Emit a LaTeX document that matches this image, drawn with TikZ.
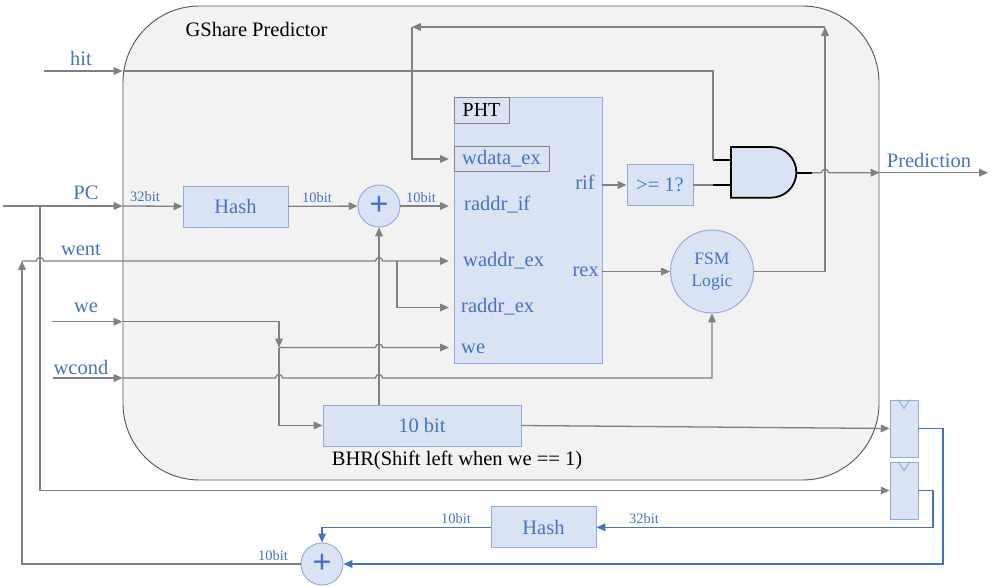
\documentclass[tikz,border=0pt]{standalone}
\usepackage{fontspec}
\setmainfont{Liberation Serif}
\usetikzlibrary{arrows.meta}
\definecolor{boxblue}{HTML}{DAE3F3}
\definecolor{edgeblue}{HTML}{8FAADC}
\definecolor{txtblue}{HTML}{4472C4}
\definecolor{wiregray}{HTML}{808080}
\definecolor{panelgray}{HTML}{F2F2F2}
\tikzset{block/.style = {draw=edgeblue, fill=boxblue, line width=0.8pt, rectangle, text=txtblue, font=\fontsize{17.5}{21}\selectfont},
         tabbox/.style = {draw=gray, fill=boxblue, line width=0.8pt, rectangle, inner sep=0pt},
         sum/.style = {draw=edgeblue, fill=boxblue, line width=0.8pt, circle, minimum size=1.26cm, inner sep=0pt, text=txtblue},
         reg/.style = {draw=edgeblue, fill=boxblue, line width=0.8pt, rectangle, minimum width=0.84cm, minimum height=1.71cm},
         lbl/.style = {text=txtblue, font=\fontsize{17.5}{21}\selectfont},
         port/.style = {lbl, inner sep=0pt, text height=12pt, text depth=4pt},
         bits/.style = {text=txtblue, font=\fontsize{12.3}{14}\selectfont},
         wire/.style = {wiregray, line width=1.1pt},
         bus/.style = {txtblue, line width=0.9pt},
         into/.style = {shorten >=4pt},
         lead/.style = {black, line width=1.5pt}}
\begin{document}
\begin{tikzpicture}[x=0.03cm, y=-0.03cm, >={Triangle[length=7.5pt,width=6.5pt]}]
        \useasboundingbox (0,0) rectangle (1001,587);
        \node[draw=black!65, fill=panelgray, line width=0.8pt, rounded corners=2.3cm, minimum width=22.68cm, minimum height=14.22cm] (gshare) at (501,243) {};
        \node[font=\fontsize{17.5}{21}\selectfont] (title) at (256.5,29) {GShare Predictor};

        \node[block, minimum width=3.15cm, minimum height=1.23cm] (hash1) at (235.5,206.5) {Hash};
        \node[sum] (add1) at (379,206) {\fontsize{29}{29}\selectfont\bfseries +};
        \node[block, minimum width=4.44cm, minimum height=7.98cm] (pht) at (528,230) {};
        \node[tabbox, minimum width=1.65cm, minimum height=0.78cm, font=\fontsize{17}{20}\selectfont] (phtname) at (481.5,110) {PHT};
        \node[tabbox, lbl, minimum width=2.85cm, minimum height=0.765cm] (wdata) at (501.5,159) {wdata\_ex};
        \node[port, anchor=west] (rdif) at (464,206) {raddr\_if};
        \node[port, anchor=west] (wadex) at (463,261.5) {waddr\_ex};
        \node[port, anchor=west] (rdex) at (461,307.5) {raddr\_ex};
        \node[port, anchor=west] (weport) at (461,348.5) {we};
        \node[port, anchor=east] (rif) at (595,184.5) {rif};
        \node[port, anchor=east] (rex) at (599,271.7) {rex};
        \node[block, minimum width=1.98cm, minimum height=1.23cm] (ge) at (660,185) {>= 1?};
        \node[sum, minimum size=2.49cm, align=center, font=\fontsize{15}{18.8}\selectfont] (fsm) at (712,271.5) {FSM\\Logic};
        \node[block, minimum width=5.94cm, minimum height=1.23cm] (bhr) at (422,425.5) {10 bit};
        \node[font=\fontsize{17.5}{21}\selectfont] (bhrname) at (457,460) {BHR(Shift left when we == 1)};

        \node[reg] (ff1) at (904,428.5) {};
        \node[reg] (ff2) at (904,490.5) {};
        \draw[edgeblue, line width=0.8pt] ([xshift=-0.18cm]ff1.north) -- ([yshift=-0.27cm]ff1.north) -- ([xshift=0.18cm]ff1.north);
        \draw[edgeblue, line width=0.8pt] ([xshift=-0.18cm]ff2.north) -- ([yshift=-0.27cm]ff2.north) -- ([xshift=0.18cm]ff2.north);
        \node[block, minimum width=3.15cm, minimum height=1.23cm] (hash2) at (543.5,527.3) {Hash};
        \node[sum] (add2) at (322,564) {\fontsize{29}{29}\selectfont\bfseries +};

        \node[lbl] (hitname) at (81,58) {hit};
        \node[lbl] (pcname) at (86,193) {PC};
        \node[lbl] (wentname) at (81,250) {went};
        \node[lbl] (wename) at (86,308) {we};
        \node[lbl] (wcondname) at (81,367) {wcond};
        \node[lbl] (predname) at (929,160) {Prediction};
        \node[bits] (pcbits) at (145,197) {32bit};
        \node[bits] (hashbits) at (317,198) {10bit};
        \node[bits] (addbits) at (421,198) {10bit};
        \node[bits] (hash2bits) at (456,519) {10bit};
        \node[bits] (add2bits) at (273,555.7) {10bit};
        \node[bits] (ffbits) at (644,519) {32bit};

        \coordinate (hitin) at (44,71);
        \coordinate (pcin) at (3,206);
        \coordinate (pcbr) at (40,206);
        \coordinate (wentin) at (22,261);
        \coordinate (wentbr) at (397,261);
        \coordinate (wein) at (52,321.7);
        \coordinate (wesplit) at (279,347.5);
        \coordinate (wcin) at (53,378);
        \coordinate (and1) at (713,160);
        \coordinate (and2) at (713,185);
        \coordinate (gateout) at (812,172.7);
        \coordinate (predout) at (988,172.7);
        \coordinate (tr) at (825,27);
        \coordinate (tl) at (412,27);
        \coordinate (ffc1) at (943,564);
        \coordinate (ffc2) at (933,527.3);

        \draw[lead, fill=boxblue] (731,147) -- (771,147) arc (90:-90:0.76cm) -- (731,197.7) -- cycle;
        \draw[lead] (and1) -- (731,160);
        \draw[lead] (and2) -- (731,185);
        \draw[lead] (796,172.7) -- (gateout);

        \draw[wire,->] (hitin) -- (gshare.west |- hitin);
        \draw[wire] (gshare.west |- hitin) -| (and1);
        \draw[wire,->] (pcin) -- (gshare.west |- pcin);
        \draw[wire,->] (gshare.west |- pcin) -- (hash1);
        \draw[wire,->] (hash1) -- (add1);
        \draw[wire,->,into] (add1) -- (pht.west |- add1);
        \draw[wire,->] (pcbr) |- (ff2.west);
        \draw[wire,->,into] (wentin) -- (36.5,261) arc (180:0:3pt) -- (375.5,261) arc (180:0:3pt) -- (pht.west |- wentin);
        \draw[wire,->,into] (wentbr) |- (pht.west |- rdex);
        \draw[wire,->] (wein) -- (gshare.west |- wein);
        \draw[wire,->] (gshare.west |- wein) -| (wesplit);
        \draw[wire,->,into] (wesplit) -- (375.5,347.5) arc (180:0:3pt) -- (pht.west |- wesplit);
        \draw[wire,->] (wesplit) |- (bhr.west);
        \draw[wire,->] (wcin) -- (gshare.west |- wcin);
        \draw[wire,->] (gshare.west |- wcin) -- (275.5,378) arc (180:0:3pt) -- (375.5,378) arc (180:0:3pt) -| (fsm.south);
        \draw[wire,->] (bhr.north -| add1) -- (add1.south);
        \draw[wire,->] (pht.east |- ge) -- (ge);
        \draw[wire] (ge) -- (and2);
        \draw[wire,->] (pht.east |- fsm) -- (fsm);
        \draw[wire,->] (fsm.east) -| (tr);
        \draw[wire,->] (tr) -- (tl);
        \draw[wire,->,into] (tl) |- (pht.west |- wdata);
        \draw[wire,->] (gateout) -- (821.5,172.7) arc (180:0:3pt) -- (gshare.east |- gateout);
        \draw[wire,->] (gshare.east |- gateout) -- (predout);
        \draw[wire,->] (bhr.east) -- (ff1.west);

        \draw[bus,->] (ff1.east) -| (ffc1) -- (add2.east);
        \draw[bus,->] (ff2.east) -| (ffc2) -- (hash2.east);
        \draw[bus,->] (hash2.west) -| (add2.north);
        \draw[wire,->] (add2.west) -| (wentin);
\end{tikzpicture}
\end{document}
